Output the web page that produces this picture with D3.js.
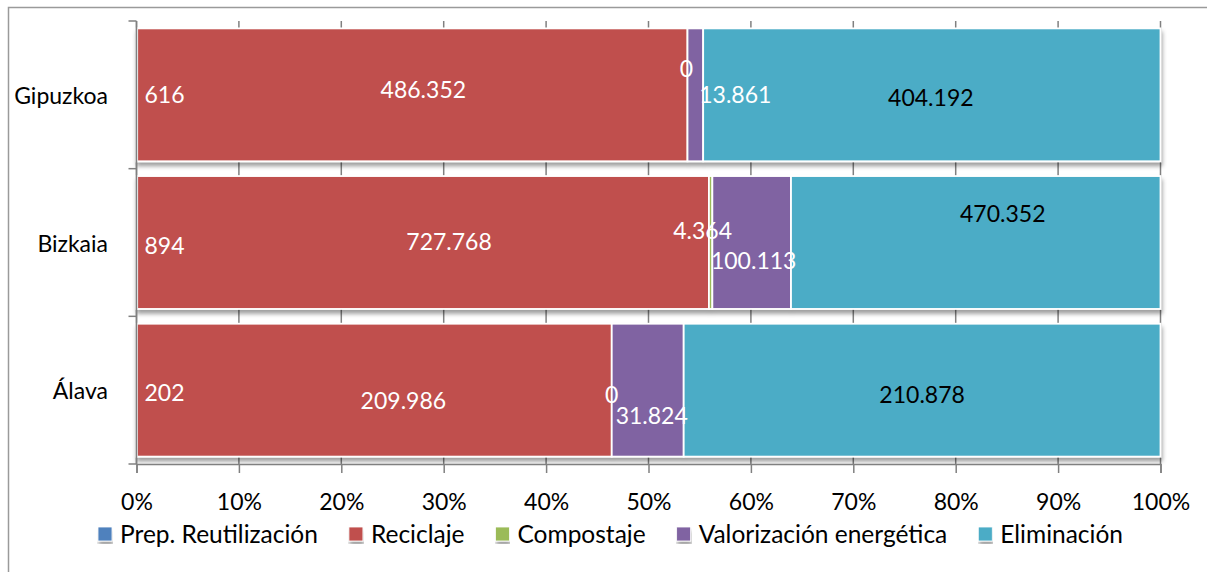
<!DOCTYPE html>
<html>
<head>
<meta charset="utf-8">
<script src="https://cdn.jsdelivr.net/npm/d3@7"></script>
<style>
  body { margin: 0; background: #fff; }
  svg { display: block; font-family: Lato, "Open Sans", sans-serif; }
</style>
</head>
<body>
<svg id="chart" width="1207" height="572"></svg>
<script>
// ---- data: municipal waste by destination (tonnes) ----
const categories = ["Gipuzkoa", "Bizkaia", "Álava"];
const seriesNames = ["Prep. Reutilización", "Reciclaje", "Compostaje", "Valorización energética", "Eliminación"];
const prepReutilizacion = [616, 894, 202];
const reciclaje = [486352, 727768, 209986];
const compostaje = [0, 4364, 0];
const valorizacionEnergetica = [13861, 100113, 31824];
const eliminacion = [404192, 470352, 210878];
const xTickValues = [0, 0.1, 0.2, 0.3, 0.4, 0.5, 0.6, 0.7, 0.8, 0.9, 1];

const seriesValues = [prepReutilizacion, reciclaje, compostaje, valorizacionEnergetica, eliminacion];
const seriesColors = ["#4F81BD", "#C0504D", "#9BBB59", "#8064A2", "#4BACC6"];
const labelColors = ["#fff", "#fff", "#fff", "#fff", "#000"];

// hand-placed label offsets [dx, dy] so neighbouring labels don't collide
const labelNudge = {
  "Gipuzkoa": [[0, 0], [11, -5], [-1, -26], [40, 0], [-1, 3]],
  "Bizkaia":  [[0, 3], [26, -1], [-8, -12], [2, 18], [27, -29]],
  "Álava":    [[0, 3], [29, 11], [0, 5], [4, 26], [0, 5]]
};

// build rows and normalise each to 100%
const rows = categories.map((c, i) => {
  const r = { category: c };
  seriesNames.forEach((s, j) => r[s] = seriesValues[j][i]);
  r.total = d3.sum(seriesValues, v => v[i]);
  return r;
});
const stack = d3.stack()
  .keys(seriesNames)
  .value((d, k) => d[k] / d.total);
const stacked = stack(rows);

const esLocale = d3.formatLocale({ decimal: ",", thousands: ".", grouping: [3], currency: ["", " €"] });
const fmtValue = esLocale.format(",d");

const svg = d3.select("#chart");
const plotLeft = 136.5, plotRight = 1160.5, plotTop = 21, plotBottom = 464;

const x = d3.scaleLinear().domain([0, 1]).range([plotLeft, plotRight]);
const y = d3.scaleBand().domain(categories).range([plotTop, plotBottom])
  .paddingInner(0.1).paddingOuter(0.05);

// shadow under each bar
const defs = svg.append("defs");
defs.append("filter").attr("id", "barShadow")
  .attr("x", "-2%").attr("y", "-10%").attr("width", "105%").attr("height", "125%")
  .append("feDropShadow")
  .attr("dx", 1).attr("dy", 4).attr("stdDeviation", 2)
  .attr("flood-color", "#000").attr("flood-opacity", 0.38);

// outer chart border
svg.append("rect")
  .attr("x", 8.5).attr("y", 7.5).attr("width", 1230).attr("height", 600)
  .attr("fill", "none").attr("stroke", "#9a9a9a").attr("stroke-width", 1.5);

// vertical gridlines (show through the gaps between bars)
svg.append("g").selectAll("line").data(xTickValues).join("line")
  .attr("x1", d => x(d)).attr("x2", d => x(d))
  .attr("y1", plotTop).attr("y2", plotBottom)
  .attr("stroke", "#808080").attr("stroke-width", 1.5);

// bars
const barGroups = svg.append("g").selectAll("g.bar").data(rows).join("g")
  .attr("class", "bar")
  .attr("filter", "url(#barShadow)");

barGroups.each(function (row, i) {
  d3.select(this).selectAll("rect").data(stacked.map(s => ({ key: s.key, seg: s[i] }))).join("rect")
    .attr("x", d => x(d.seg[0]))
    .attr("width", d => Math.max(0, x(d.seg[1]) - x(d.seg[0])))
    .attr("y", y(row.category))
    .attr("height", y.bandwidth())
    .attr("fill", d => seriesColors[seriesNames.indexOf(d.key)])
    .attr("stroke", "#fff").attr("stroke-width", 1.8);
});

// left axis: line with ticks at category boundaries
const yAxis = svg.append("g").attr("stroke", "#808080").attr("stroke-width", 1.5);
yAxis.append("line").attr("x1", plotLeft).attr("x2", plotLeft).attr("y1", plotTop).attr("y2", plotBottom);
d3.range(categories.length + 1).forEach(i => {
  const yy = plotTop + i * y.step();
  yAxis.append("line").attr("x1", plotLeft - 8).attr("x2", plotLeft).attr("y1", yy).attr("y2", yy);
});
svg.append("g").selectAll("text").data(categories).join("text")
  .attr("x", 108).attr("y", d => y(d) + y.bandwidth() / 2 + 9)
  .attr("text-anchor", "end").attr("font-size", 23).attr("fill", "#000")
  .text(d => d);

// bottom axis
const xAxis = svg.append("g").attr("transform", `translate(0,${plotBottom})`)
  .call(d3.axisBottom(x).tickValues(xTickValues).tickFormat(d3.format(".0%")).tickSize(9));
xAxis.select(".domain").attr("stroke", "#808080").attr("stroke-width", 1.5);
xAxis.selectAll(".tick line").attr("stroke", "#808080").attr("stroke-width", 1.5);
xAxis.selectAll(".tick text").attr("y", 46).attr("dy", 0)
  .attr("font-size", 23).attr("font-family", "Lato, 'Open Sans', sans-serif").attr("fill", "#000");

// value labels
const labels = svg.append("g");
rows.forEach((row, i) => {
  const cy = y(row.category) + y.bandwidth() / 2;
  stacked.forEach((s, j) => {
    const seg = s[i];
    const nudge = labelNudge[row.category][j];
    const t = labels.append("text")
      .attr("font-size", 23).attr("fill", labelColors[j])
      .attr("text-anchor", "middle")
      .attr("y", cy + 8 + nudge[1])
      .text(fmtValue(seriesValues[j][i]));
    const w = t.node().getComputedTextLength();
    let cx = (x(seg[0]) + x(seg[1])) / 2 + nudge[0];
    cx = Math.max(cx, plotLeft + 8 + w / 2);   // keep inside the plot area
    t.attr("x", cx);
  });
});

// legend
const legend = svg.append("g");
let lx = 98;
seriesNames.forEach((name, j) => {
  legend.append("rect")
    .attr("x", lx).attr("y", 527).attr("width", 14).attr("height", 14)
    .attr("fill", seriesColors[j]).attr("stroke", "#fff").attr("stroke-width", 0.8)
    .attr("filter", "url(#barShadow)");
  const t = legend.append("text")
    .attr("x", lx + 22).attr("y", 543)
    .attr("font-size", 24.5).attr("fill", "#000")
    .text(name);
  lx += 22 + t.node().getComputedTextLength() + 31;
});
</script>
</body>
</html>
